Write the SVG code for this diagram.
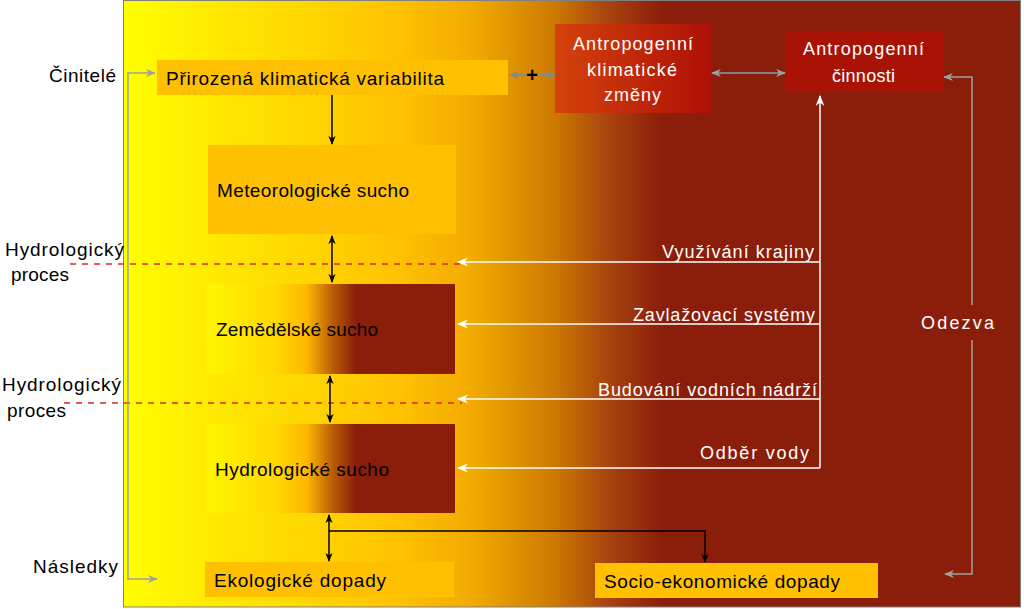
<svg xmlns="http://www.w3.org/2000/svg" width="1024" height="609" viewBox="0 0 1024 609">
<defs>
<linearGradient id="bg" gradientUnits="userSpaceOnUse" x1="123" y1="0" x2="1021" y2="0">
<stop offset="0" stop-color="#FFFF00"/>
<stop offset="0.1" stop-color="#FFEA00"/>
<stop offset="0.3" stop-color="#FFC400"/>
<stop offset="0.39" stop-color="#F2AA00"/>
<stop offset="0.48" stop-color="#CC7A00"/>
<stop offset="0.54" stop-color="#A84410"/>
<stop offset="0.6" stop-color="#8B1E0A"/>
<stop offset="1" stop-color="#8B1E0A"/>
</linearGradient>
<linearGradient id="bx" x1="0" y1="0" x2="1" y2="0">
<stop offset="0" stop-color="#FFF500"/>
<stop offset="0.28" stop-color="#FFD800"/>
<stop offset="0.4" stop-color="#FFB800"/>
<stop offset="0.51" stop-color="#B85A05"/>
<stop offset="0.6" stop-color="#8B1E0A"/>
<stop offset="1" stop-color="#8B1E0A"/>
</linearGradient>
<linearGradient id="ak" x1="0" y1="0" x2="1" y2="0">
<stop offset="0" stop-color="#D4420C"/>
<stop offset="1" stop-color="#AE1006"/>
</linearGradient>
<marker id="ab" viewBox="0 0 10 10" refX="9" refY="5" markerWidth="9" markerHeight="9" markerUnits="userSpaceOnUse" orient="auto-start-reverse">
<path d="M0,1 L10,5 L0,9 L3,5 z" fill="#000"/>
</marker>
<marker id="aw" viewBox="0 0 10 10" refX="9" refY="5" markerWidth="11" markerHeight="11" markerUnits="userSpaceOnUse" orient="auto-start-reverse">
<path d="M0,1 L10,5 L0,9 L3,5 z" fill="#FFFFFF"/>
</marker>
<marker id="ag" viewBox="0 0 10 10" refX="9" refY="5" markerWidth="10" markerHeight="10" markerUnits="userSpaceOnUse" orient="auto-start-reverse">
<path d="M0,1 L10,5 L0,9 L3,5 z" fill="#A0A0A0"/>
</marker>
<marker id="ag2" viewBox="0 0 10 10" refX="9" refY="5" markerWidth="10" markerHeight="10" markerUnits="userSpaceOnUse" orient="auto-start-reverse">
<path d="M0,1 L10,5 L0,9 L3,5 z" fill="#7F8C94"/>
</marker>
</defs>
<style>
text{font-family:"Liberation Sans",Arial,sans-serif}
.bk{fill:#000;font-size:19px}
.wt{fill:#FFF;font-size:18px}
.lb{fill:#000;font-size:19px}
.box{fill:#FFC000}
.cb{stroke:#000;stroke-width:1.5;fill:none}
.cw{stroke:#FFF;stroke-width:1.5;fill:none}
.cg{stroke:#A0A0A0;stroke-width:1.5;fill:none}
.dash{stroke:#E0262A;stroke-width:1.5;stroke-dasharray:6 6;fill:none}
</style>
<rect x="0" y="0" width="1024" height="609" fill="#FFFFFF"/>
<rect id="panel" x="123.5" y="0.5" width="897" height="606.5" fill="url(#bg)" stroke="#808080" stroke-width="1"/>

<g id="labels">
<text class="lb" x="116" y="82" text-anchor="end" textLength="67">Činitelé</text>
<text class="lb" x="5" y="256" textLength="119">Hydrologický</text>
<text class="lb" x="11" y="281" textLength="58">proces</text>
<text class="lb" x="2" y="391" textLength="119">Hydrologický</text>
<text class="lb" x="7" y="417" textLength="59">proces</text>
<text class="lb" x="118" y="573" text-anchor="end" textLength="85">Následky</text>
</g>

<g id="n-variabilita">
<rect class="box" x="157" y="60" width="351" height="35"/>
<text class="bk" x="166" y="85" textLength="278">Přirozená klimatická variabilita</text>
</g>
<g id="n-meteo">
<rect class="box" x="208" y="145" width="248" height="89"/>
<text class="bk" x="217" y="197" textLength="192">Meteorologické sucho</text>
</g>
<g id="n-zemed">
<rect x="207" y="284" width="248" height="90" fill="url(#bx)"/>
<text class="bk" x="216" y="336" textLength="162">Zemědělské sucho</text>
</g>
<g id="n-hydro">
<rect x="207" y="424" width="248" height="89" fill="url(#bx)"/>
<text class="bk" x="215" y="476" textLength="174">Hydrologické sucho</text>
</g>
<g id="n-ekolog">
<rect class="box" x="205" y="562" width="249" height="35"/>
<text class="bk" x="214" y="587" textLength="172">Ekologické dopady</text>
</g>
<g id="n-socio">
<rect class="box" x="595" y="563" width="283" height="35"/>
<text class="bk" x="604" y="588" textLength="236">Socio-ekonomické dopady</text>
</g>
<g id="n-antklim">
<rect x="555" y="24" width="156" height="89" fill="url(#ak)"/>
<text class="wt" x="633" y="50" text-anchor="middle" textLength="120">Antropogenní</text>
<text class="wt" x="632" y="76" text-anchor="middle" textLength="90">klimatické</text>
<text class="wt" x="632.5" y="101" text-anchor="middle" textLength="57">změny</text>
</g>
<g id="n-antcin">
<rect x="785" y="31" width="158" height="61" fill="#A91306"/>
<text class="wt" x="863.5" y="55" text-anchor="middle" textLength="121">Antropogenní</text>
<text class="wt" x="863.5" y="82" text-anchor="middle" textLength="63">činnosti</text>
</g>

<g id="connectors">
<line class="dash" x1="70" y1="264" x2="462" y2="264"/>
<line class="dash" x1="64" y1="403" x2="462" y2="403"/>

<line class="cb" x1="332" y1="95" x2="332" y2="144" marker-end="url(#ab)"/>
<line class="cb" x1="332" y1="236" x2="332" y2="282" marker-start="url(#ab)" marker-end="url(#ab)"/>
<line class="cb" x1="330" y1="376" x2="330" y2="422" marker-start="url(#ab)" marker-end="url(#ab)"/>
<line class="cb" x1="329" y1="515" x2="329" y2="561" marker-start="url(#ab)" marker-end="url(#ab)"/>
<polyline class="cb" points="329,531 705,531 705,562" marker-end="url(#ab)"/>

<line x1="510" y1="75" x2="555" y2="75" stroke="#7F8C94" stroke-width="2" marker-start="url(#ag2)" marker-end="url(#ag2)"/>
<text x="532" y="82" text-anchor="middle" style="font-size:20px;font-weight:bold;fill:#000">+</text>
<line x1="712" y1="73" x2="785" y2="73" stroke="#808080" stroke-width="2" marker-start="url(#ag)" marker-end="url(#ag)"/>

<polyline class="cw" points="820,468 820,96" marker-end="url(#aw)"/>
<line class="cw" x1="820" y1="262" x2="458" y2="262" marker-end="url(#aw)"/>
<line class="cw" x1="820" y1="324" x2="458" y2="324" marker-end="url(#aw)"/>
<line class="cw" x1="820" y1="399" x2="458" y2="399" marker-end="url(#aw)"/>
<line class="cw" x1="820" y1="468" x2="458" y2="468" marker-end="url(#aw)"/>

<polyline class="cg" points="128,580 128,73 155,73" marker-end="url(#ag)"/>
<line class="cg" x1="128" y1="579" x2="157" y2="579" marker-end="url(#ag)"/>

<polyline class="cg" points="972,305 972,77 944,77" marker-end="url(#ag)"/>
<polyline class="cg" points="972,340 972,574 945,574" marker-end="url(#ag)"/>

<text class="wt" x="814" y="258" text-anchor="end" textLength="152">Využívání krajiny</text>
<text class="wt" x="815" y="321" text-anchor="end" textLength="182">Zavlažovací systémy</text>
<text class="wt" x="817" y="396" text-anchor="end" textLength="219">Budování vodních nádrží</text>
<text class="wt" x="809" y="459" text-anchor="end" textLength="109">Odběr vody</text>
<text class="wt" x="957.5" y="329" text-anchor="middle" textLength="73">Odezva</text>
</g>
</svg>
